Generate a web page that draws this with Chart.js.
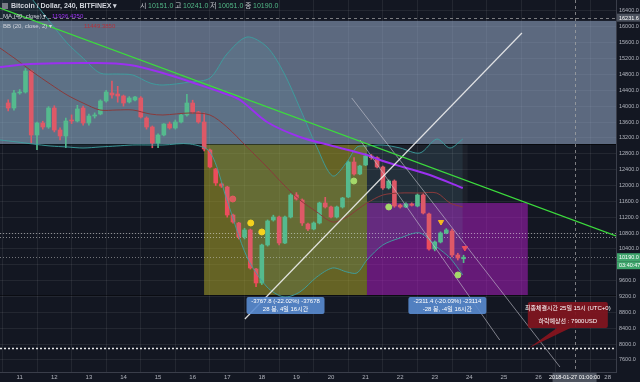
<!DOCTYPE html>
<html>
<head>
<meta charset="utf-8">
<script src="https://cdn.jsdelivr.net/npm/chart.js@4.4.0/dist/chart.umd.min.js"></script>
<style>
html, body { margin: 0; background: #131722; }
#wrap { width: 640px; height: 382px; }
</style>
</head>
<body>
<div id="wrap"><canvas id="chart"></canvas></div>
<script>
// axis ticks
const dayTicks = [11, 12, 13, 14, 15, 16, 17, 18, 19, 20, 21, 22, 23, 24, 25, 26, 27, 28];
const priceTicks = [7600, 8000, 8400, 8800, 9200, 9600, 10000, 10400, 10800, 11200, 11600, 12000, 12400, 12800, 13200, 13600, 14000, 14400, 14800, 15200, 15600, 16000, 16400];

// 4h candles, first one opens 10th 16:00
const firstCandleDay = 10 + 4 / 6;
const candleOpen  = [14080,13953,14332,14357,14886,13272,13575,13474,13953,13398,13247,13651,13625,13953,13575,13751,13802,14130,14332,14306,14256,14105,14155,14205,13700,13474,13071,13272,13550,13449,13600,13777,14079,13852,13600,12894,12415,12037,11961,11255,11053,10700,10877,9893,9540,10498,11129,11204,10548,11204,11759,11633,11028,10902,11053,11557,11457,11204,11457,11709,12591,12289,12516,12743,12700,12465,11936,12112,11507,11457,11532,11482,11759,11280,10397,10574,10801,10851,10246,10151];
const candleHigh  = [14160,14400,14420,14950,14912,13600,13620,13990,14010,13450,13700,13780,14020,14000,13800,13830,14160,14400,14634,14500,14280,14240,14250,14240,13730,13500,13300,13560,13600,13650,13800,14300,14150,13870,13830,12920,12430,12060,11980,11280,11070,10920,10900,9910,10520,11130,11250,11230,11230,11790,11820,11660,11050,11080,11580,11700,11480,11480,11700,12620,12700,12510,12800,12780,12720,12490,12140,12140,11530,11560,11560,11790,11790,11300,10600,10830,10910,10900,10290,10241];
const candleLow   = [13880,13900,14300,14330,13070,12900,13420,13440,13350,13150,12950,13560,13600,13520,13520,13700,13780,14100,14200,14100,14000,14080,14130,13700,13420,12950,12950,13250,13420,13420,13580,13750,13820,13570,12870,12440,12000,11950,11200,11050,10650,10650,9890,9450,9500,10470,11100,10500,10530,11180,11630,10990,10860,10880,11030,11430,11180,11180,11430,11690,12260,12270,12500,12660,12440,11900,11910,11450,11430,11440,11480,11460,11280,10370,10350,10550,10780,10200,10120,10051];
const candleClose = [13953,14332,14357,14886,13272,13575,13474,13953,13398,13247,13625,13625,13928,13575,13751,13777,14130,14357,14281,14256,14079,14205,14231,13726,13474,13071,13272,13550,13449,13600,13777,14079,13852,13600,12919,12465,12062,11986,11255,11078,10700,10877,9918,9540,10498,11103,11204,10548,11204,11759,11658,11053,10902,11053,11557,11457,11204,11457,11683,12591,12289,12490,12743,12700,12465,11936,12112,11482,11457,11532,11500,11759,11305,10397,10574,10801,10877,10246,10170,10190];

// MA (40, close)
const maDays   = [10.43, 11.30, 13.23, 14.19, 15.14, 16.12, 16.88, 17.37, 18.15, 19.10, 20.05, 21.04, 21.50, 22.08, 22.86, 23.81];
const maValues = [14987, 15063, 15088, 15038, 14836, 14559, 14332, 14155, 13600, 13222, 12995, 12768, 12617, 12465, 12264, 11936];

// BB (20, close, 2)
const bbDays   = [10.43,10.92,11.38,11.88,12.37,12.83,13.32,13.81,14.27,14.77,15.14,15.92,16.50,16.99,17.57,18.15,18.64,19.10,19.59,20.05,20.46,20.75,21.04,21.50,22.00,22.57,23.06,23.44,23.81];
const bbUpper  = [17787,17232,16677,16122,15593,15214,14836,14811,14786,14584,14533,14609,14710,15315,15744,15492,14836,13953,12970,12238,12591,12970,12995,13020,12944,12818,13171,12944,13171];
const bbBasis  = [15466,15164,14861,14559,14281,14079,13903,13903,13903,13802,13777,13827,13777,13474,12970,12465,12011,11633,11330,11078,11204,11381,11557,11759,11809,11809,11809,11557,11457];
const bbLower  = [13146,13096,13045,12995,12970,12944,12970,12995,13020,13020,13020,13045,12844,11633,10195,9439,9187,9313,9691,9918,9817,9792,10120,10498,10675,10801,10448,10170,9742];

// drawings
const trendDays = [10.43, 28.24];
const trendPrices = [16475, 10725];
const riseDays = [17.51, 25.52];
const risePrices = [8632, 15845];
const fallADays = [20.60, 26.62];
const fallAPrices = [14205, 7421];
const fallBDays = [20.84, 24.88];
const fallBPrices = [13146, 8100];
const wedgeDays = [25.72, 26.55, 26.95];
const wedgePrices = [7900, 8420, 8420];

// signal marks
const pinkDotDays = [17.16], pinkDotPrices = [11658];
const yellowDotDays = [17.68, 18.0], yellowDotPrices = [11053, 10826];
const greenDotDays = [20.66, 21.67, 23.67], greenDotPrices = [12112, 11457, 9742];
const orangeTriDays = [23.18], orangeTriPrices = [11078];
const redTriDays = [23.87], redTriPrices = [10422];

// zones: [fromDay, toDay, lowPrice, highPrice]
const grayZone = [10.0, 29.0, 13045, 16150];
const dropZone = [16.33, 21.04, 9237, 13045];
const nextZone = [21.04, 25.69, 9237, 11557];
const hazeZone = [21.04, 23.95, 11557, 13045];

const lastPrice = 10190.0;
const targetPrice = 7900;
const guidePrices = [10790, 10705];
const crossDay = 27 + 1 / 24;
const crossPrice = 16231.6;

const UP = '#53b987', DOWN = '#eb4d5c';
const FONT = "'Liberation Sans', 'Noto Sans CJK KR', sans-serif";

const candleDays = candleOpen.map((_, i) => firstCandleDay + i / 6);
const candleColors = candleOpen.map((o, i) => candleClose[i] >= o ? UP : DOWN);
const pts = (xs, ys) => xs.map((v, i) => ({ x: v, y: ys[i] }));

const drawings = {
    id: 'drawings',
    beforeDatasetsDraw(chart) {
        const { ctx, chartArea: a, scales: { x, y } } = chart;
        const box = (z, fill) => {
            const x0 = x.getPixelForValue(z[0]), x1 = x.getPixelForValue(z[1]);
            const y0 = y.getPixelForValue(z[3]), y1 = y.getPixelForValue(z[2]);
            ctx.fillStyle = fill;
            ctx.fillRect(x0, y0, x1 - x0, y1 - y0);
        };
        const hline = (p, color, dash, w) => {
            const py = Math.round(y.getPixelForValue(p)) + 0.5;
            ctx.strokeStyle = color; ctx.lineWidth = w; ctx.setLineDash(dash);
            ctx.beginPath(); ctx.moveTo(a.left, py); ctx.lineTo(a.right, py); ctx.stroke();
            ctx.setLineDash([]);
        };
        ctx.save();
        ctx.beginPath(); ctx.rect(a.left, a.top, a.width, a.height); ctx.clip();
        box(grayZone, 'rgba(160,180,212,0.52)');
        box(hazeZone, 'rgba(255,255,255,0.04)');
        box(dropZone, 'rgba(176,168,40,0.52)');
        box(nextZone, 'rgba(170,30,190,0.55)');
        hline(grayZone[2], 'rgba(0,0,0,0.6)', [], 1);
        hline(dropZone[2], 'rgba(0,0,0,0.45)', [], 1);
        guidePrices.forEach(p => hline(p, 'rgba(230,230,230,0.55)', [1, 2], 1));
        hline(lastPrice, 'rgba(210,210,210,0.5)', [1, 2], 1);
        hline(targetPrice, 'rgba(255,255,255,0.9)', [2, 2], 1.5);
        // crosshair
        const cx = Math.round(x.getPixelForValue(crossDay)) + 0.5;
        const cy = Math.round(y.getPixelForValue(crossPrice)) + 0.5;
        ctx.strokeStyle = 'rgba(170,170,170,0.7)'; ctx.lineWidth = 1; ctx.setLineDash([3, 3]);
        ctx.beginPath(); ctx.moveTo(cx, a.top); ctx.lineTo(cx, a.bottom);
        ctx.moveTo(a.left, cy); ctx.lineTo(a.right, cy); ctx.stroke();
        ctx.restore();
    },
    afterDatasetsDraw(chart) {
        const { ctx, chartArea: a, scales: { x, y } } = chart;
        ctx.save();
        ctx.beginPath(); ctx.rect(a.left, a.top, a.width, a.height); ctx.clip();

        // callout tail
        ctx.fillStyle = 'rgba(140,20,30,0.9)';
        ctx.beginPath();
        wedgeDays.forEach((d, i) => {
            const px = x.getPixelForValue(d), py = y.getPixelForValue(wedgePrices[i]);
            if (i === 0) ctx.moveTo(px, py); else ctx.lineTo(px, py);
        });
        ctx.closePath(); ctx.fill();

        const label = (cxp, top, w, h, bg, lines) => {
            ctx.fillStyle = bg;
            ctx.beginPath(); ctx.roundRect(cxp - w / 2, top, w, h, 2); ctx.fill();
            ctx.fillStyle = '#ffffff'; ctx.textAlign = 'center'; ctx.textBaseline = 'middle';
            ctx.font = '6px ' + FONT;
            lines.forEach((t, i) => ctx.fillText(t, cxp, top + h / (lines.length * 2) * (2 * i + 1)));
        };
        const bottomY = y.getPixelForValue(dropZone[2]) + 2;
        label(x.getPixelForValue((dropZone[0] + dropZone[1]) / 2), bottomY, 78, 17, 'rgba(90,140,210,0.9)',
            ['-3767.8 (-22.02%) -37678', '28 봉, 4일 16시간']);
        label(x.getPixelForValue((nextZone[0] + nextZone[1]) / 2), bottomY, 78, 17, 'rgba(90,140,210,0.9)',
            ['-2311.4 (-20.03%) -23114', '-28 봉, -4일 16시간']);
        const rx = x.getPixelForValue(nextZone[1]);
        label(rx + 40, y.getPixelForValue(9060), 80, 26, 'rgba(130,22,32,0.92)',
            ['최종체결시간 25일 15시 (UTC+0)', '하락예상선 : 7900USD']);

        // legend header
        ctx.textAlign = 'left'; ctx.textBaseline = 'middle';
        ctx.fillStyle = '#787b86'; ctx.fillRect(2, 3, 6, 6);
        ctx.font = 'bold 7px ' + FONT; ctx.fillStyle = '#d1d4dc';
        ctx.fillText('Bitcoin / Dollar, 240, BITFINEX ▾', 11, 6.5);
        const ohlc = [['시', '10151.0'], ['고', '10241.0'], ['저', '10051.0'], ['종', '10190.0']];
        ohlc.forEach((p, i) => {
            const bx = 140 + i * 35;
            ctx.font = '7px ' + FONT; ctx.fillStyle = '#c8cad0'; ctx.fillText(p[0], bx, 6.5);
            ctx.fillStyle = UP; ctx.fillText(p[1], bx + 8, 6.5);
        });
        ctx.font = '6px ' + FONT;
        ctx.fillStyle = '#d1d4dc'; ctx.fillText('MA (40, close) ▾', 3, 16.5);
        ctx.fillStyle = '#9b30f0'; ctx.fillText('11936.4350', 52, 16.5);
        ctx.fillStyle = '#d1d4dc'; ctx.fillText('BB (20, close, 2) ▾', 3, 26.5);
        ctx.fillStyle = '#b3323c'; ctx.fillText('11449.3850', 84, 26.5);
        ctx.restore();
    },
    afterDraw(chart) {
        const { ctx, chartArea: a, scales: { x, y } } = chart;
        ctx.save();
        ctx.font = '5.5px ' + FONT; ctx.textBaseline = 'middle';
        const tag = (p, bg, text) => {
            const py = y.getPixelForValue(p);
            ctx.fillStyle = bg; ctx.fillRect(a.right + 1, py - 4, 23, 8);
            ctx.fillStyle = '#ffffff'; ctx.textAlign = 'left'; ctx.fillText(text, a.right + 3, py + 0.5);
        };
        tag(crossPrice, '#4c525e', crossPrice.toFixed(1));
        tag(lastPrice, '#3fa56c', lastPrice.toFixed(1));
        tag(lastPrice - 8 / (a.height / (y.max - y.min)), '#3fa56c', '03:40:47');
        const cx = x.getPixelForValue(crossDay);
        ctx.fillStyle = '#4c525e'; ctx.fillRect(cx - 22, a.bottom + 1, 44, 9);
        ctx.fillStyle = '#ffffff'; ctx.textAlign = 'center';
        ctx.fillText('2018-01-27 01:00:00', cx, a.bottom + 5.5);
        ctx.restore();
    }
};

const lineSet = (data, color, width, extra) => Object.assign({
    type: 'line', data, borderColor: color, borderWidth: width, pointRadius: 0,
    tension: 0.3, fill: false, order: 1
}, extra || {});
const dotSet = (data, color, style, rot) => ({
    type: 'line', data, showLine: false, pointRadius: 3, pointStyle: style || 'circle',
    rotation: rot || 0, pointBackgroundColor: color, pointBorderColor: color, order: 0
});
const noPad = s => { s.paddingLeft = 0; s.paddingRight = 0; s.paddingTop = 0; s.paddingBottom = 0; };

new Chart(document.getElementById('chart'), {
    type: 'bar',
    data: {
        datasets: [
            lineSet(pts(bbDays, bbUpper), 'rgba(60,160,160,0.9)', 1, { fill: '+1', backgroundColor: 'rgba(110,200,210,0.10)', order: 3 }),
            lineSet(pts(bbDays, bbLower), 'rgba(60,160,160,0.9)', 1, { order: 3 }),
            lineSet(pts(bbDays, bbBasis), '#8e2b2b', 1, { order: 3 }),
            lineSet(pts(maDays, maValues), '#9b30f0', 2, { order: 2 }),
            lineSet(pts(trendDays, trendPrices), '#3ddc3d', 1.2, { tension: 0 }),
            lineSet(pts(riseDays, risePrices), 'rgba(240,240,240,0.9)', 1.2, { tension: 0 }),
            lineSet(pts(fallADays, fallAPrices), 'rgba(200,200,210,0.75)', 0.8, { tension: 0 }),
            lineSet(pts(fallBDays, fallBPrices), 'rgba(200,200,210,0.75)', 0.8, { tension: 0 }),
            {
                data: candleDays.map((d, i) => ({ x: d, y: [candleLow[i], candleHigh[i]] })),
                backgroundColor: candleColors, barThickness: 1, grouped: false, order: 6
            },
            {
                data: candleDays.map((d, i) => ({ x: d, y: [candleOpen[i], candleClose[i]] })),
                backgroundColor: candleColors, barThickness: 4, minBarLength: 1, grouped: false, order: 5
            },
            dotSet(pts(pinkDotDays, pinkDotPrices), 'rgba(235,90,100,0.85)'),
            dotSet(pts(yellowDotDays, yellowDotPrices), '#f5d21e'),
            dotSet(pts(greenDotDays, greenDotPrices), '#a5d86a'),
            dotSet(pts(orangeTriDays, orangeTriPrices), '#f5b820', 'triangle', 180),
            dotSet(pts(redTriDays, redTriPrices), '#eb4d5c', 'triangle', 180)
        ]
    },
    options: {
        responsive: true,
        maintainAspectRatio: false,
        animation: false,
        layout: { padding: 0, autoPadding: false },
        plugins: { legend: { display: false }, tooltip: { enabled: false } },
        scales: {
            x: {
                type: 'linear', min: 10.43, max: 28.24, offset: false,
                afterBuildTicks: s => { s.ticks = dayTicks.map(v => ({ value: v })); },
                afterFit: s => { s.height = 10; noPad(s); },
                grid: { color: 'rgba(255,255,255,0.07)', drawTicks: false },
                border: { color: '#3a3e4a' },
                ticks: { color: '#b2b5be', font: { size: 6, family: FONT }, padding: 2, maxRotation: 0, autoSkip: false,
                    callback: v => v === 27 ? '' : String(v) }
            },
            y: {
                position: 'right', min: 7295, max: 16677,
                afterBuildTicks: s => { s.ticks = priceTicks.map(v => ({ value: v })); },
                afterFit: s => { s.width = 24; noPad(s); },
                grid: { color: 'rgba(255,255,255,0.07)', drawTicks: false },
                border: { color: '#3a3e4a' },
                ticks: { color: '#b2b5be', font: { size: 5.5, family: FONT }, padding: 3,
                    callback: v => Number(v).toFixed(1) }
            }
        }
    },
    plugins: [drawings]
});
</script>
</body>
</html>
